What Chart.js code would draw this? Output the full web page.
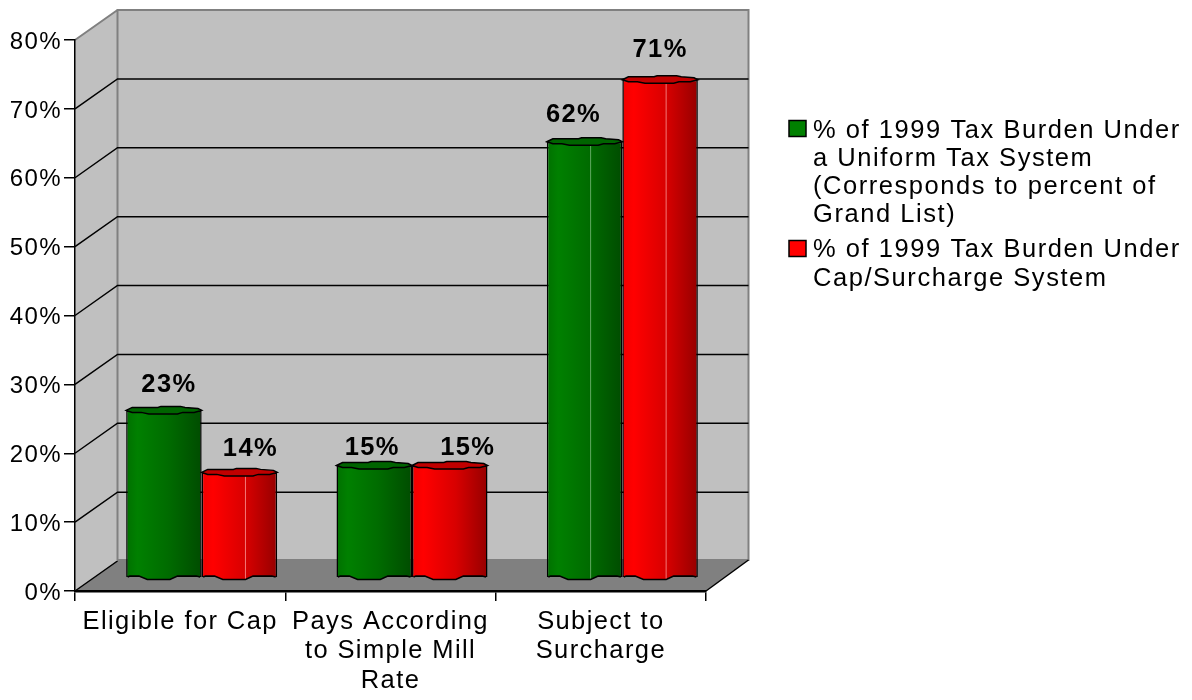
<!DOCTYPE html>
<html>
<head>
<meta charset="utf-8">
<title>1999 Tax Burden</title>
<script src="https://cdn.jsdelivr.net/npm/chart.js@4"></script>
<style>
  html, body { margin: 0; padding: 0; background: #fff; }
  #wrap { position: relative; width: 1192px; height: 700px; }
</style>
</head>
<body>
<div id="wrap"><canvas id="chart" width="1192" height="700"></canvas></div>
<script>
const categories = [['Eligible for Cap'], ['Pays According', 'to Simple Mill', 'Rate'], ['Subject to', 'Surcharge']];
const uniformValues = [23, 15, 62];
const capValues = [14, 15, 71];
const uniformLegend = ['% of 1999 Tax Burden Under', 'a Uniform Tax System', '(Corresponds to percent of', 'Grand List)'];
const capLegend = ['% of 1999 Tax Burden Under', 'Cap/Surcharge System'];

const FONT = '"Liberation Sans", Arial, sans-serif';
const FONT_SIZE = 25.5;
const SPACING = '1.4px';
const DEPTH_X = 42.5;
const DEPTH_Y = 31;
const BAR_SHIFT_X = 21.5;
const BAR_SHIFT_Y = 22.2;
const BAR_BASE = -1.19;
const GROUP = 0.718;

function barLeft(chart, datasetIndex, dataIndex) {
    const x = chart.scales.x;
    const groupWidth = (x.width / categories.length) * GROUP;
    return x.getPixelForValue(dataIndex) - groupWidth / 2 + datasetIndex * groupWidth / 2;
}

function barGradient(ctx, left, width, isGreen) {
    const g = ctx.createLinearGradient(left, 0, left + width, 0);
    if (isGreen) {
        g.addColorStop(0, '#007000');
        g.addColorStop(0.15, '#008000');
        g.addColorStop(0.55, '#006c00');
        g.addColorStop(1, '#004c00');
    } else {
        g.addColorStop(0, '#f00000');
        g.addColorStop(0.15, '#ff0000');
        g.addColorStop(0.58, '#d80000');
        g.addColorStop(1, '#960000');
    }
    return g;
}

function barFill(c, datasetIndex, flat) {
    const left = c.dataIndex === undefined ? NaN : barLeft(c.chart, datasetIndex, c.dataIndex);
    if (!Number.isFinite(left)) return flat;
    const width = c.chart.scales.x.width / categories.length * GROUP / 2;
    return barGradient(c.chart.ctx, left, width, datasetIndex === 0);
}

const wallsPlugin = {
    id: 'walls',
    beforeDraw(chart) {
        const { ctx, scales: { x, y } } = chart;
        const left = x.left, right = x.right;
        const bottom = y.getPixelForValue(0), top = y.getPixelForValue(80);
        ctx.letterSpacing = SPACING;
        ctx.save();
        // back wall and side wall
        ctx.fillStyle = '#c0c0c0';
        ctx.fillRect(left + DEPTH_X, top - DEPTH_Y + 1, right - left, bottom - top);
        ctx.beginPath();
        ctx.moveTo(left, bottom);
        ctx.lineTo(left, top);
        ctx.lineTo(left + DEPTH_X, top - DEPTH_Y + 1);
        ctx.lineTo(left + DEPTH_X, bottom - DEPTH_Y);
        ctx.closePath();
        ctx.fill();
        // floor
        ctx.fillStyle = '#808080';
        ctx.beginPath();
        ctx.moveTo(left, bottom);
        ctx.lineTo(left + DEPTH_X, bottom - DEPTH_Y);
        ctx.lineTo(right + DEPTH_X, bottom - DEPTH_Y);
        ctx.lineTo(right, bottom);
        ctx.closePath();
        ctx.fill();
        // wall outline
        ctx.strokeStyle = '#808080';
        ctx.lineWidth = 2;
        ctx.beginPath();
        ctx.moveTo(left, top);
        ctx.lineTo(left + DEPTH_X, top - DEPTH_Y + 1);
        ctx.moveTo(left + DEPTH_X, bottom - DEPTH_Y);
        ctx.lineTo(left + DEPTH_X, top - DEPTH_Y + 1);
        ctx.lineTo(right + DEPTH_X, top - DEPTH_Y + 1);
        ctx.lineTo(right + DEPTH_X, bottom - DEPTH_Y);
        ctx.lineTo(left + DEPTH_X, bottom - DEPTH_Y);
        ctx.stroke();
        // grid lines, folded over side and back wall
        ctx.strokeStyle = '#000';
        ctx.lineWidth = 1.5;
        y.ticks.forEach(t => {
            if (t.value >= 80) return;
            const py = y.getPixelForValue(t.value);
            ctx.beginPath();
            ctx.moveTo(left, py);
            ctx.lineTo(left + DEPTH_X, py - DEPTH_Y + 1);
            if (t.value > 0) ctx.lineTo(right + DEPTH_X, py - DEPTH_Y + 1);
            ctx.stroke();
        });
        ctx.beginPath();
        ctx.moveTo(right, bottom);
        ctx.lineTo(right + DEPTH_X, bottom - DEPTH_Y);
        ctx.stroke();
        ctx.restore();
    },
    beforeDatasetDraw(chart) {
        chart.ctx.save();
        chart.ctx.translate(BAR_SHIFT_X, -BAR_SHIFT_Y);
    },
    afterDatasetDraw(chart, args) {
        const { ctx } = chart;
        const isGreen = args.index === 0;
        args.meta.data.forEach((bar, i) => {
            const w = bar.width, l = bar.x - w / 2, r = bar.x + w / 2;
            // uneven lower edge of the cylinder, covers the straight border
            const edge = [[0.02, 0], [0.05, -1], [0.17, -1], [0.28, 2.5], [0.58, 2.5], [0.68, -1], [0.93, -1], [0.98, 0]];
            ctx.fillStyle = barGradient(ctx, l, w, isGreen);
            ctx.beginPath();
            edge.forEach(([fx, dy], n) => {
                if (n === 0) ctx.moveTo(l + w * fx, bar.base + dy);
                else ctx.lineTo(l + w * fx, bar.base + dy);
            });
            ctx.lineTo(l + w * 0.98, bar.base - 3);
            ctx.lineTo(l + w * 0.02, bar.base - 3);
            ctx.closePath();
            ctx.fill();
            ctx.strokeStyle = '#000';
            ctx.lineWidth = 1.5;
            ctx.beginPath();
            edge.forEach(([fx, dy], n) => {
                if (n === 0) ctx.moveTo(l + w * fx, bar.base + dy);
                else ctx.lineTo(l + w * fx, bar.base + dy);
            });
            ctx.stroke();
            // facet line, only visible on some of the bars
            if (i === 2 || (i === 0 && !isGreen)) {
                ctx.strokeStyle = isGreen ? 'rgba(160,210,160,0.6)' : 'rgba(255,170,170,0.7)';
                ctx.lineWidth = 1;
                ctx.beginPath();
                ctx.moveTo(l + w * 0.58, bar.y + 4);
                ctx.lineTo(l + w * 0.58, bar.base + 1.5);
                ctx.stroke();
            }
            // top cap
            ctx.strokeStyle = '#000';
            ctx.lineWidth = 1.5;
            ctx.fillStyle = isGreen ? '#006400' : '#c00000';
            ctx.beginPath();
            ctx.moveTo(l, bar.y);
            ctx.lineTo(l + w * 0.08, bar.y - 3);
            ctx.lineTo(l + w * 0.42, bar.y - 3);
            ctx.lineTo(l + w * 0.46, bar.y - 4);
            ctx.lineTo(l + w * 0.72, bar.y - 4);
            ctx.lineTo(l + w * 0.78, bar.y - 3);
            ctx.lineTo(l + w * 0.95, bar.y - 2);
            ctx.lineTo(r, bar.y);
            ctx.lineTo(l + w * 0.9, bar.y + 2);
            ctx.lineTo(l + w * 0.75, bar.y + 2);
            ctx.lineTo(l + w * 0.68, bar.y + 3.5);
            ctx.lineTo(l + w * 0.3, bar.y + 3.5);
            ctx.lineTo(l + w * 0.2, bar.y + 2);
            ctx.lineTo(l + w * 0.08, bar.y + 2);
            ctx.closePath();
            ctx.fill();
            ctx.stroke();
        });
        ctx.restore();
    },
    afterDraw(chart) {
        const { ctx } = chart;
        ctx.save();
        ctx.fillStyle = '#000';
        ctx.letterSpacing = SPACING;
        // value labels, hand placed in the original: [dx, lift] per group and series
        const nudges = [[[5, 25], [11, 23]], [[-2, 18], [18, 18]], [[-11, 27], [0, 30]]];
        ctx.font = 'bold ' + FONT_SIZE + 'px ' + FONT;
        ctx.textAlign = 'center';
        ctx.textBaseline = 'middle';
        chart.data.datasets.forEach((ds, di) => {
            chart.getDatasetMeta(di).data.forEach((bar, i) => {
                const [dx, lift] = nudges[i][di];
                ctx.fillText(ds.data[i] + '%', bar.x + BAR_SHIFT_X + dx, bar.y - BAR_SHIFT_Y - lift);
            });
        });
        // legend
        ctx.font = FONT_SIZE + 'px ' + FONT;
        ctx.letterSpacing = '1.55px';
        ctx.textAlign = 'left';
        ctx.textBaseline = 'alphabetic';
        const drawEntry = (lines, color, boxY, firstBase, pitch) => {
            ctx.fillStyle = color;
            ctx.fillRect(789, boxY, 17, 16);
            ctx.strokeStyle = '#000';
            ctx.lineWidth = 1.5;
            ctx.strokeRect(789, boxY, 17, 16);
            ctx.fillStyle = '#000';
            lines.forEach((line, i) => ctx.fillText(line, 813, firstBase + i * pitch));
        };
        drawEntry(uniformLegend, '#008000', 120.5, 138, 27.9);
        drawEntry(capLegend, '#ff0000', 240.5, 257, 29);
        ctx.restore();
    }
};

new Chart(document.getElementById('chart'), {
    type: 'bar',
    plugins: [wallsPlugin],
    data: {
        labels: categories,
        datasets: [{
            label: uniformLegend.join(' '),
            data: uniformValues,
            base: BAR_BASE,
            clip: false,
            backgroundColor: c => barFill(c, 0, '#008000'),
            borderColor: '#000',
            borderWidth: 1.5,
            borderSkipped: false
        }, {
            label: capLegend.join(' '),
            data: capValues,
            base: BAR_BASE,
            clip: false,
            backgroundColor: c => barFill(c, 1, '#ff0000'),
            borderColor: '#000',
            borderWidth: 1.5,
            borderSkipped: false
        }]
    },
    options: {
        responsive: false,
        animation: false,
        layout: { padding: { left: 0, right: 486, top: 40, bottom: 0 } },
        categoryPercentage: GROUP,
        barPercentage: 1,
        plugins: { legend: { display: false }, tooltip: { enabled: false } },
        scales: {
            x: {
                afterFit: s => { s.height = 109; },
                grid: { drawOnChartArea: false, color: '#000', lineWidth: 1.5, tickLength: 10 },
                border: { color: '#000', width: 2.5 },
                ticks: { color: '#000', font: { family: FONT, size: FONT_SIZE, lineHeight: 1.16 }, maxRotation: 0, autoSkip: false, padding: 6 }
            },
            y: {
                min: 0,
                max: 80,
                afterFit: s => { s.width = 75; },
                grid: { drawOnChartArea: false, color: '#000', lineWidth: 1.5, tickLength: 11 },
                border: { color: '#000', width: 1.5 },
                // empty first line pushes the label 2px down, the original sits a bit under its tick
                ticks: { color: '#000', stepSize: 10, callback: v => ['', v + '%'], font: { family: FONT, size: 24, lineHeight: '4px' }, padding: 2 }
            }
        }
    }
});
</script>
</body>
</html>
